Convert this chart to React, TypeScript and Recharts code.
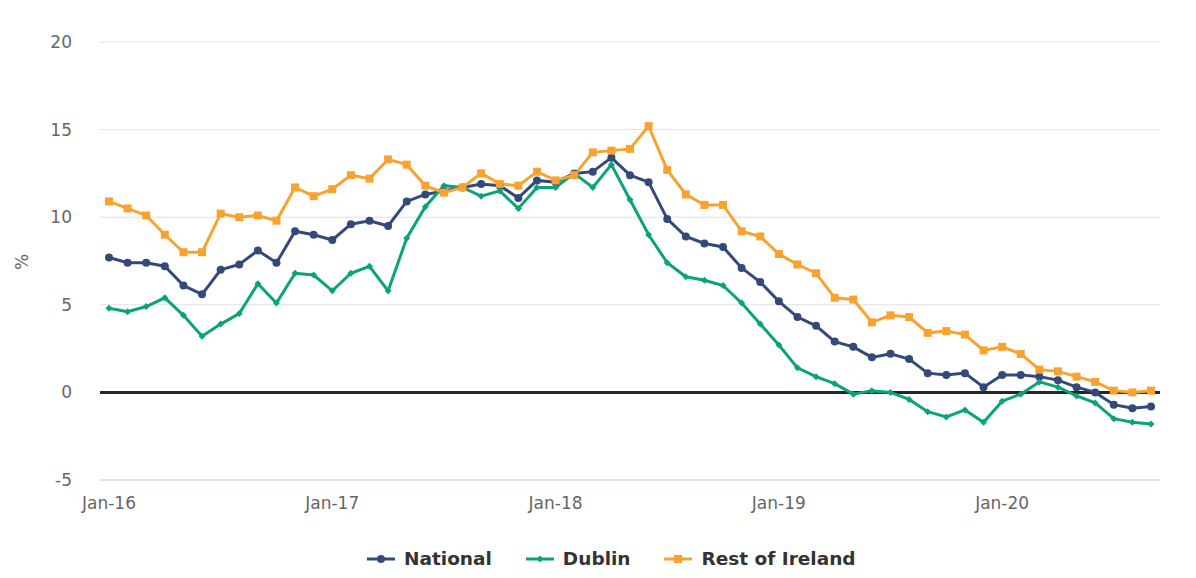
import {
  LineChart,
  Line,
  XAxis,
  YAxis,
  CartesianGrid,
  ReferenceLine,
} from "recharts";

const months = [
  "Jan-16", "Feb-16", "Mar-16", "Apr-16", "May-16", "Jun-16", "Jul-16", "Aug-16", "Sep-16", "Oct-16", "Nov-16", "Dec-16",
  "Jan-17", "Feb-17", "Mar-17", "Apr-17", "May-17", "Jun-17", "Jul-17", "Aug-17", "Sep-17", "Oct-17", "Nov-17", "Dec-17",
  "Jan-18", "Feb-18", "Mar-18", "Apr-18", "May-18", "Jun-18", "Jul-18", "Aug-18", "Sep-18", "Oct-18", "Nov-18", "Dec-18",
  "Jan-19", "Feb-19", "Mar-19", "Apr-19", "May-19", "Jun-19", "Jul-19", "Aug-19", "Sep-19", "Oct-19", "Nov-19", "Dec-19",
  "Jan-20", "Feb-20", "Mar-20", "Apr-20", "May-20", "Jun-20", "Jul-20", "Aug-20", "Sep-20",
];

const national = [
  7.7, 7.4, 7.4, 7.2, 6.1, 5.6, 7.0, 7.3, 8.1, 7.4, 9.2, 9.0,
  8.7, 9.6, 9.8, 9.5, 10.9, 11.3, 11.5, 11.7, 11.9, 11.8, 11.1, 12.1,
  12.0, 12.5, 12.6, 13.4, 12.4, 12.0, 9.9, 8.9, 8.5, 8.3, 7.1, 6.3,
  5.2, 4.3, 3.8, 2.9, 2.6, 2.0, 2.2, 1.9, 1.1, 1.0, 1.1, 0.3,
  1.0, 1.0, 0.9, 0.7, 0.3, 0.0, -0.7, -0.9, -0.8,
];

const dublin = [
  4.8, 4.6, 4.9, 5.4, 4.4, 3.2, 3.9, 4.5, 6.2, 5.1, 6.8, 6.7,
  5.8, 6.8, 7.2, 5.8, 8.8, 10.6, 11.8, 11.7, 11.2, 11.5, 10.5, 11.7,
  11.7, 12.5, 11.7, 13.0, 11.0, 9.0, 7.4, 6.6, 6.4, 6.1, 5.1, 3.9,
  2.7, 1.4, 0.9, 0.5, -0.1, 0.1, 0.0, -0.4, -1.1, -1.4, -1.0, -1.7,
  -0.5, -0.1, 0.6, 0.3, -0.2, -0.6, -1.5, -1.7, -1.8,
];

const restOfIreland = [
  10.9, 10.5, 10.1, 9.0, 8.0, 8.0, 10.2, 10.0, 10.1, 9.8, 11.7, 11.2,
  11.6, 12.4, 12.2, 13.3, 13.0, 11.8, 11.4, 11.7, 12.5, 11.9, 11.8, 12.6,
  12.1, 12.4, 13.7, 13.8, 13.9, 15.2, 12.7, 11.3, 10.7, 10.7, 9.2, 8.9,
  7.9, 7.3, 6.8, 5.4, 5.3, 4.0, 4.4, 4.3, 3.4, 3.5, 3.3, 2.4,
  2.6, 2.2, 1.3, 1.2, 0.9, 0.6, 0.1, 0.0, 0.1,
];

const yTicks = [-5, 0, 5, 10, 15, 20];

const data = months.map((month, i) => ({
  month,
  national: national[i],
  dublin: dublin[i],
  rest: restOfIreland[i],
}));

const NAVY = "#34497b";
const GREEN = "#0aa37b";
const ORANGE = "#f8a330";
const FONT = "'DejaVu Sans', Verdana, sans-serif";

const tickStyle = { fontSize: 17, fill: "#666666", fontFamily: FONT };

function CircleDot(props: any) {
  const { cx, cy, index } = props;
  if (cx == null || cy == null) return null;
  return <circle key={`n${index}`} cx={cx} cy={cy} r={4} fill={NAVY} />;
}

function DiamondDot(props: any) {
  const { cx, cy, index } = props;
  if (cx == null || cy == null) return null;
  const s = 3.5;
  return (
    <path
      key={`d${index}`}
      d={`M${cx},${cy - s}L${cx + s},${cy}L${cx},${cy + s}L${cx - s},${cy}Z`}
      fill={GREEN}
    />
  );
}

function SquareDot(props: any) {
  const { cx, cy, index } = props;
  if (cx == null || cy == null) return null;
  return <rect key={`r${index}`} x={cx - 4} y={cy - 4} width={8} height={8} fill={ORANGE} />;
}

const legendItems = [
  { label: "National", color: NAVY, marker: "circle" },
  { label: "Dublin", color: GREEN, marker: "diamond" },
  { label: "Rest of Ireland", color: ORANGE, marker: "square" },
];

function LegendIcon({ color, marker }: { color: string; marker: string }) {
  return (
    <svg width={28} height={12} style={{ display: "block" }}>
      <line x1={0} y1={6} x2={28} y2={6} stroke={color} strokeWidth={3} />
      {marker === "circle" && <circle cx={14} cy={6} r={4} fill={color} />}
      {marker === "diamond" && <path d="M14,2.5L17.5,6L14,9.5L10.5,6Z" fill={color} />}
      {marker === "square" && <rect x={10} y={2} width={8} height={8} fill={color} />}
    </svg>
  );
}

export default function App() {
  return (
    <div
      style={{
        position: "absolute",
        left: 0,
        top: 0,
        width: 1196,
        height: 578,
        background: "#ffffff",
        fontFamily: FONT,
      }}
    >
      <LineChart
        width={1196}
        height={578}
        data={data}
        margin={{ top: 42, right: 36, left: 0, bottom: 0 }}
      >
        <CartesianGrid stroke="#e0e0e0" vertical={false} />
        <XAxis
          dataKey="month"
          type="category"
          interval={11}
          padding={{ left: 9, right: 9 }}
          height={98}
          axisLine={{ stroke: "#ccd6eb", strokeWidth: 1 }}
          tickLine={false}
          tickSize={0}
          tickMargin={17}
          tick={tickStyle}
        />
        <YAxis
          domain={[-5, 20]}
          ticks={yTicks}
          width={100}
          axisLine={false}
          tickLine={false}
          tickSize={0}
          tickMargin={28}
          tick={tickStyle}
        />
        <ReferenceLine y={0} stroke="#262626" strokeWidth={3} />
        <Line
          dataKey="national"
          stroke={NAVY}
          strokeWidth={3}
          dot={CircleDot}
          activeDot={false}
          isAnimationActive={false}
        />
        <Line
          dataKey="dublin"
          stroke={GREEN}
          strokeWidth={3}
          dot={DiamondDot}
          activeDot={false}
          isAnimationActive={false}
        />
        <Line
          dataKey="rest"
          stroke={ORANGE}
          strokeWidth={3}
          dot={SquareDot}
          activeDot={false}
          isAnimationActive={false}
        />
      </LineChart>
      <div
        style={{
          position: "absolute",
          left: 12,
          top: 252,
          width: 20,
          textAlign: "center",
          transform: "rotate(-90deg)",
          fontSize: 17,
          color: "#666666",
        }}
      >
        %
      </div>
      <div
        style={{
          position: "absolute",
          left: 367,
          top: 548,
          display: "flex",
          alignItems: "center",
          gap: 34,
          fontSize: 18.5,
          fontWeight: "bold",
          color: "#333333",
          whiteSpace: "nowrap",
        }}
      >
        {legendItems.map((item) => (
          <div key={item.label} style={{ display: "flex", alignItems: "center", gap: 9 }}>
            <LegendIcon color={item.color} marker={item.marker} />
            <span>{item.label}</span>
          </div>
        ))}
      </div>
    </div>
  );
}
